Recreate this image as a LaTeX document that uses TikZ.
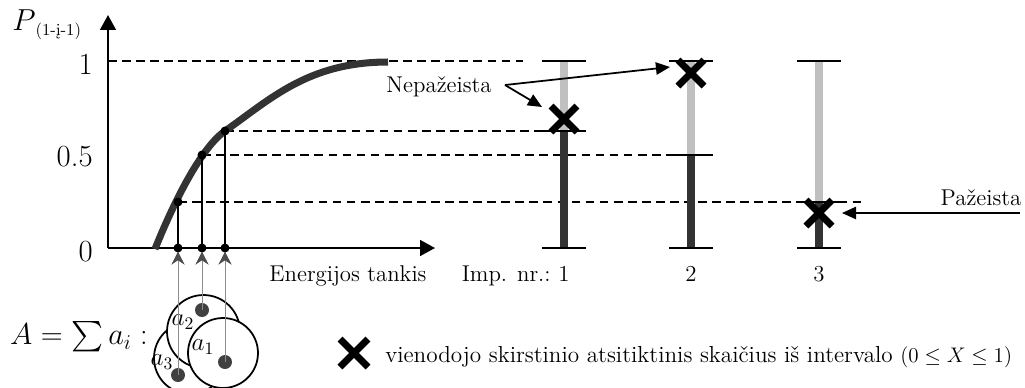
\documentclass[tikz,border=0pt]{standalone}
\usepackage{amsmath}
\usepackage{fontspec}
\usetikzlibrary{arrows.meta}

\definecolor{curvegray}{HTML}{333333}
\definecolor{barlight}{HTML}{C0C0C0}
\definecolor{dotgray}{HTML}{404040}
\definecolor{feedgray}{HTML}{8C8C8C}

\tikzset{
  axisline/.style={line width=1.1pt,-{Triangle[length=8.5pt,width=9pt]}},
  level/.style={line width=0.9pt,dash pattern=on 5pt off 3pt},
  riser/.style={line width=0.6pt},
  feed/.style={line width=0.5pt,feedgray,shorten >=2pt,
    -{Stealth[length=7.5pt,width=7.5pt,inset=2.5pt,color=black!70]}},
  pointer/.style={line width=1pt,-{Triangle[length=8pt,width=7pt]}},
  bartick/.style={line width=1pt},
  barpart/.style={line width=4pt},
  xmark/.style={line width=4pt},
  particle/.style={draw,circle,line width=1pt,fill=white,inner sep=0pt},
  txt/.style={font=\fontsize{13}{15}\selectfont,inner sep=0pt},
  ticklbl/.style={font=\fontsize{17.5}{20}\selectfont,inner sep=0pt,anchor=east},
  mathlbl/.style={font=\fontsize{14}{16}\selectfont,inner sep=0pt},
}

\begin{document}
\begin{tikzpicture}[x=0.02cm,y=-0.02cm]
  \useasboundingbox (0,0) rectangle (1025,387);
  % Key points
  \coordinate (O) at (108,248);
  \coordinate (ytip) at (108,15);
  \coordinate (xtip) at (435,248);
  \coordinate (ytop) at (108,61);
  \coordinate (c1) at (178,202);
  \coordinate (c2) at (202,155);
  \coordinate (c3) at (225,131);
  \coordinate (f1) at (178,248);
  \coordinate (f2) at (202,248);
  \coordinate (f3) at (225,248);
  \coordinate (b1mid) at (564,131);
  \coordinate (b2mid) at (691,155);
  \coordinate (topend) at (523,61);
  \coordinate (lowend) at (863,202);

  % Probability levels
  \draw[level] (ytop) -- (topend);
  \draw[level] (c3) -- (b1mid);
  \draw[level] (c2) -- (b2mid);
  \draw[level] (c1) -- (lowend);

  % Impulse bars
  \foreach \x/\m [count=\n] in {564/131,691/155,819/202} {
    \draw[barpart,barlight] (\x,61) -- (\x,\m);
    \draw[barpart,curvegray] (\x,\m) -- (\x,248);
    \foreach \y in {61,\m,248}
      \draw[bartick] (\x-22,\y) -- (\x+22,\y);
    \node[txt,anchor=base] (imp\n) at (\x,281) {\n};
  }

  % Axes
  \draw[axisline] (O) -- (ytip);
  \draw[axisline] (O) -- (xtip);

  % Distribution curve
  \draw[line width=4pt,curvegray] (155,249) .. controls (169,214) and (198,150) .. (c3)
    .. controls (270,99.5) and (308,62) .. (388,62);
  \draw[riser] (f1) -- (c1);
  \draw[riser] (f2) -- (c2);
  \draw[riser] (f3) -- (c3);

  % Particles
  \node[particle,minimum size=1.44cm] (p3) at (190,358) {};
  \node[particle,minimum size=1.46cm] (p2) at (203.5,331.5) {};
  \node[particle,minimum size=1.40cm] (p1) at (223,353) {};
  \coordinate (a1dot) at (225,362);
  \coordinate (a2dot) at (202,310);
  \coordinate (a3dot) at (178,375);
  \foreach \p in {a1dot,a2dot,a3dot}
    \fill[dotgray] (\p) circle[radius=7];
  \node[mathlbl] (a1lbl) at (203,347) {$a_1$};
  \node[mathlbl] (a2lbl) at (183,322) {$a_2$};
  \node[mathlbl] (a3lbl) at (162,362) {$a_3$};
  \draw[feed] (a3dot) -- (f1);
  \draw[feed] (a2dot) -- (f2);
  \draw[feed] (a1dot) -- (f3);

  % Dots
  \foreach \p in {c1,c2,c3,f1,f2,f3}
    \fill (\p) circle[radius=4.5];

  % Random numbers
  \foreach \x/\y in {564/119,691/73,819/213}
    \draw[xmark] (\x-13,\y-13) -- (\x+13,\y+13) (\x-13,\y+13) -- (\x+13,\y-13);
  \draw[xmark] (340,339) -- (368,367) (340,367) -- (368,339);

  % Labels
  \node[ticklbl] (l1) at (93,64) {1};
  \node[ticklbl] (l05) at (93,157) {0.5};
  \node[ticklbl] (l0) at (93,252) {0};
  \node[anchor=base west,inner sep=0pt] (plbl) at (12,30)
    {\fontsize{17}{20}\selectfont$P$\raisebox{-3pt}{\fontsize{9.5}{11}\selectfont(1-į-1)}};
  \node[txt,anchor=base] (etank) at (348,281) {Energijos tankis};
  \node[txt,anchor=base east] (impnr) at (551,281) {Imp. nr.:};
  \node[txt,anchor=base] (nep) at (439,92) {Nepažeista};
  \node[txt,anchor=base] (paz) at (981,205) {Pažeista};
  \node[font=\fontsize{17}{20}\selectfont,inner sep=0pt] (sumA) at (79,337) {$A=\sum a_i:$};
  \node[txt,anchor=base west,font=\fontsize{13.2}{16}\selectfont] (legend) at (385,362)
    {vienodojo skirstinio atsitiktinis skaičius iš intervalo $(0\le X\le 1)$};

  % Pointers
  \coordinate (nepfork) at (505,85);
  \coordinate (hit1) at (542,107);
  \coordinate (hit2) at (670,67);
  \coordinate (pazfoot) at (1020,213);
  \coordinate (hit3) at (842,213);
  \draw[pointer] (nepfork) -- (hit1);
  \draw[pointer] (nepfork) -- (hit2);
  \draw[pointer] (pazfoot) -- (hit3);
\end{tikzpicture}
\end{document}
